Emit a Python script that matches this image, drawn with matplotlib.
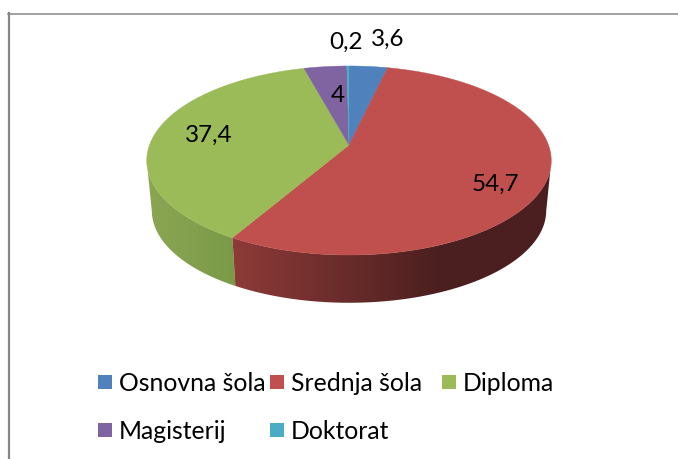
import numpy as np
import matplotlib
matplotlib.use("Agg")
import matplotlib.pyplot as plt
from matplotlib.colors import LinearSegmentedColormap
from matplotlib.patches import Polygon, Rectangle

categories = ["Osnovna šola", "Srednja šola", "Diploma", "Magisterij", "Doktorat"]
values = [3.6, 54.7, 37.4, 4, 0.2]
value_labels = ["3,6", "54,7", "37,4", "4", "0,2"]
colors = ["#4f81bd", "#c0504d", "#9bbb59", "#8064a2", "#4bacc6"]

plt.rcParams['font.family'] = ['Lato', 'DejaVu Sans']

# label spots in pixels
label_pos = [(388, 39), (495, 184), (209, 135), (338, 95), (346, 42)]
legend_pos = [(98, 382), (270, 382), (442, 382), (98, 430), (270, 430)]

# perspective of the pie, fitted to the picture
cx, cy = 349, 145
k = 0.164
B = -68.2
C = 199.5


def top_point(a):
    # a in radians, clockwise from the far side
    u, v = np.sin(a), np.cos(a)
    w = 1 + k * v
    return cx + C * u / w, (cy + B * v) / w


def bottom_point(a):
    x, y = top_point(a)
    return cx + 0.975 * (x - cx), cy + 50.5 + 0.975 * (y - cy)


fig = plt.figure(figsize=(6.78, 4.59), dpi=100)
ax = fig.add_axes([0, 0, 1, 1])
ax.axis("off")

# frame: only the top and the left side show
ax.plot([8, 678], [13.5, 13.5], color="#868686", lw=1.1)
ax.plot([9, 9], [13, 459], color="#868686", lw=1.6)

edges = np.cumsum([0] + values) / sum(values) * 2 * np.pi

# side wall, gradient clipped to the wall outline
wall_cmaps = {
    1: LinearSegmentedColormap.from_list("red_wall", [(0, "#8f3b39"), (0.3, "#6e2e2c"), (0.65, "#4b1f1f"), (1, "#4b1f1f")]),
    2: LinearSegmentedColormap.from_list("green_wall", ["#8ba653", "#7a9a48"]),
}
wall_x = {1: (230, 556), 2: (145, 236)}
for i in [2, 1]:
    angles = np.linspace(edges[i], edges[i + 1], 300)
    # the wall starts where the rim is widest
    angles = angles[np.cos(angles) < -k]
    tx, ty = top_point(angles)
    bx, by = bottom_point(angles)
    outline = Polygon(list(zip(tx, ty)) + list(zip(bx[::-1], by[::-1])), fc="none", ec="none",
                      transform=ax.transData)
    ax.add_patch(outline)
    im = ax.imshow(np.linspace(0, 1, 256)[None, :], cmap=wall_cmaps[i], aspect="auto",
                   extent=(wall_x[i][0], wall_x[i][1], 320, 140), zorder=2)
    im.set_clip_path(outline)

ax.set_xlim(0, 678)
ax.set_ylim(459, 0)

# top face
for i in range(len(values)):
    angles = np.linspace(edges[i], edges[i + 1], 200)
    xs, ys = top_point(angles)
    pts = [(cx, cy)] + list(zip(xs, ys))
    ax.add_patch(Polygon(pts, fc=colors[i], ec=colors[i], lw=0.3, zorder=3))

for lab, (x, y) in zip(value_labels, label_pos):
    ax.text(x, y, lab, fontsize=17.5, color="black", ha="center", va="center", zorder=4)

# legend
for name, col, (x, y) in zip(categories, colors, legend_pos):
    ax.add_patch(Rectangle((x, y - 7), 14, 14, fc=col, ec="none"))
    ax.text(x + 21, y + 1.5, name, fontsize=17.8, color="black", ha="left", va="center")

fig.savefig("out.png", dpi=100)
